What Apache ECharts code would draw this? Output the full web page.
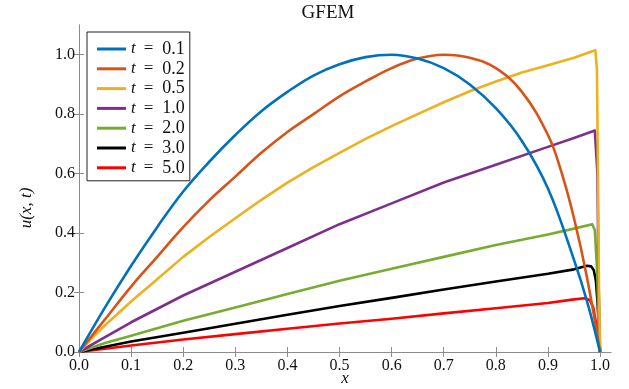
<!DOCTYPE html>
<html>
<head>
<meta charset="utf-8">
<script src="https://cdn.jsdelivr.net/npm/echarts@6/dist/echarts.min.js"></script>
<style>
html,body{margin:0;padding:0;background:#fff;}
#chart{width:629px;height:389px;}
</style>
</head>
<body>
<div id="chart"></div>
<script>
// ---- data ----
const seriesNames = ['0.1', '0.2', '0.5', '1.0', '2.0', '3.0', '5.0'];

const x_t01 = [0,0.05,0.1,0.15,0.2,0.25,0.3,0.35,0.4,0.45,0.5,0.55,0.6,0.65,0.7,0.75,0.8,0.85,0.9,0.95,0.975,1.0];
const y_t01 = [0,0.15,0.29,0.42,0.54,0.64,0.73,0.81,0.875,0.93,0.968,0.992,1.0,0.987,0.955,0.90,0.82,0.71,0.55,0.31,0.17,0];

const x_t02 = [0,0.05,0.1,0.15,0.2,0.25,0.3,0.35,0.4,0.45,0.5,0.55,0.6,0.65,0.7,0.75,0.8,0.85,0.9,0.925,0.95,0.975,1.0];
const y_t02 = [0,0.11,0.22,0.32,0.42,0.51,0.59,0.67,0.74,0.80,0.86,0.91,0.955,0.987,1.0,0.99,0.955,0.875,0.73,0.61,0.45,0.25,0];

const x_t05 = [0,0.025,0.05,0.1,0.15,0.2,0.25,0.3,0.35,0.4,0.45,0.5,0.55,0.6,0.65,0.7,0.75,0.8,0.85,0.9,0.95,0.985,0.991,0.994,0.996,0.998,1.0];
const y_t05 = [0,0.047,0.09,0.17,0.245,0.32,0.387,0.45,0.512,0.57,0.622,0.67,0.717,0.76,0.80,0.84,0.877,0.91,0.94,0.965,0.99,1.012,1.015,0.95,0.6,0.2,0];

const x_t10 = [0,0.05,0.1,0.2,0.3,0.4,0.5,0.6,0.7,0.8,0.9,0.95,0.99,0.993,0.995,0.997,1.0];
const y_t10 = [0,0.05,0.10,0.19,0.27,0.35,0.43,0.50,0.57,0.63,0.69,0.72,0.745,0.74,0.6,0.25,0];

const x_t20 = [0,0.05,0.1,0.2,0.3,0.4,0.5,0.6,0.7,0.8,0.9,0.95,0.985,0.99,0.995,0.997,1.0];
const y_t20 = [0,0.03,0.055,0.105,0.15,0.195,0.24,0.28,0.32,0.36,0.395,0.415,0.43,0.41,0.25,0.1,0];

const x_t30 = [0,0.05,0.1,0.2,0.3,0.4,0.5,0.6,0.7,0.8,0.9,0.95,0.975,0.983,0.988,0.992,0.995,0.998,1.0];
const y_t30 = [0,0.018,0.035,0.065,0.095,0.125,0.155,0.182,0.21,0.237,0.263,0.278,0.29,0.288,0.275,0.24,0.17,0.07,0];

const x_t50 = [0,0.05,0.1,0.2,0.3,0.4,0.5,0.6,0.7,0.8,0.9,0.95,0.97,0.98,0.987,0.992,0.996,1.0];
const y_t50 = [0,0.011,0.022,0.042,0.06,0.078,0.096,0.112,0.13,0.147,0.165,0.177,0.181,0.175,0.15,0.1,0.04,0];

const xTicks = [0,0.1,0.2,0.3,0.4,0.5,0.6,0.7,0.8,0.9,1.0];
const yTicks = [0,0.2,0.4,0.6,0.8,1.0];

// ---- chart ----
const colors = ['#0072BD','#D95319','#EDB120','#7E2F8E','#77AC30','#000000','#FF0000'];
const xsAll = [x_t01,x_t02,x_t05,x_t10,x_t20,x_t30,x_t50];
const ysAll = [y_t01,y_t02,y_t05,y_t10,y_t20,y_t30,y_t50];
const serif = '"Liberation Serif", "DejaVu Serif", serif';
const axisGrey = '#8c8c8c';

const series = seriesNames.map((n, i) => ({
  name: n,
  type: 'line',
  showSymbol: false,
  smooth: i < 2 ? 0.4 : false,
  xAxisIndex: 0, yAxisIndex: 0,
  lineStyle: {width: 2.6, color: colors[i], join: 'round'},
  itemStyle: {color: colors[i]},
  data: xsAll[i].map((x, k) => [x, ysAll[i][k]]),
  z: 10 - i
}));

function frameAxis(base) { return Object.assign({
  type: 'value', splitLine: {show: false},
  axisLine: {show: true, lineStyle: {color: axisGrey, width: 1}},
  axisTick: {show: true, inside: true, length: 5, lineStyle: {color: axisGrey}},
}, base); }

const option = {
  animation: false,
  backgroundColor: '#fff',
  grid: {left: 79, right: 18, top: 25, bottom: 37, containLabel: false},
  xAxis: [
    frameAxis({min: 0, max: 1.021, position: 'bottom',
      axisTick: {show: true, inside: true, length: 5, customValues: xTicks, lineStyle: {color: axisGrey}},
      axisLabel: {customValues: xTicks, formatter: v => v.toFixed(1), fontFamily: serif, fontSize: 16, color: '#111', margin: 6}}),
    frameAxis({min: 0, max: 1.021, position: 'top',
      axisTick: {show: true, inside: true, length: 5, customValues: xTicks, lineStyle: {color: axisGrey}},
      axisLabel: {show: false}})
  ],
  yAxis: [
    frameAxis({min: 0, max: 1.1, position: 'left',
      axisTick: {show: true, inside: true, length: 5, customValues: yTicks, lineStyle: {color: axisGrey}},
      axisLabel: {customValues: yTicks, formatter: v => v.toFixed(1), fontFamily: serif, fontSize: 16, color: '#111', margin: 4}}),
    frameAxis({min: 0, max: 1.1, position: 'right',
      axisTick: {show: true, inside: true, length: 5, customValues: yTicks, lineStyle: {color: axisGrey}},
      axisLabel: {show: false}})
  ],
  legend: {
    left: 87, top: 32,
    orient: 'vertical',
    backgroundColor: '#fff',
    borderColor: '#222', borderWidth: 1,
    padding: [8, 5, 4, 10],
    itemGap: 1.8,
    itemWidth: 29, itemHeight: 3,
    icon: 'rect',
    data: seriesNames,
    formatter: n => '{i|t}{s|=}{n|' + n + '}',
    textStyle: {
      fontFamily: serif, fontSize: 16, color: '#111', lineHeight: 15,
      rich: {
        i: {fontFamily: serif, fontStyle: 'italic', fontSize: 17, lineHeight: 15},
        s: {fontFamily: serif, fontSize: 17, lineHeight: 15, padding: [0, 9, 0, 8]},
        n: {fontFamily: serif, fontSize: 18, lineHeight: 15}
      }
    }
  },
  graphic: [
    {type: 'text', style: {text: 'GFEM', x: 328, y: 13, align: 'center', verticalAlign: 'middle', font: '19px ' + serif, fill: '#111'}},
    {type: 'text', style: {text: 'x', x: 345, y: 379, align: 'center', verticalAlign: 'middle', font: 'italic 17px ' + serif, fill: '#111'}},
    {type: 'text', x: 27, y: 208, rotation: Math.PI / 2,
      style: {text: 'u(x, t)', x: 0, y: 0, align: 'center', verticalAlign: 'middle', font: 'italic 17px ' + serif, fill: '#111'}}
  ],
  series: series
};

const chart = echarts.init(document.getElementById('chart'), null, {renderer: 'canvas'});
chart.setOption(option);
</script>
</body>
</html>
